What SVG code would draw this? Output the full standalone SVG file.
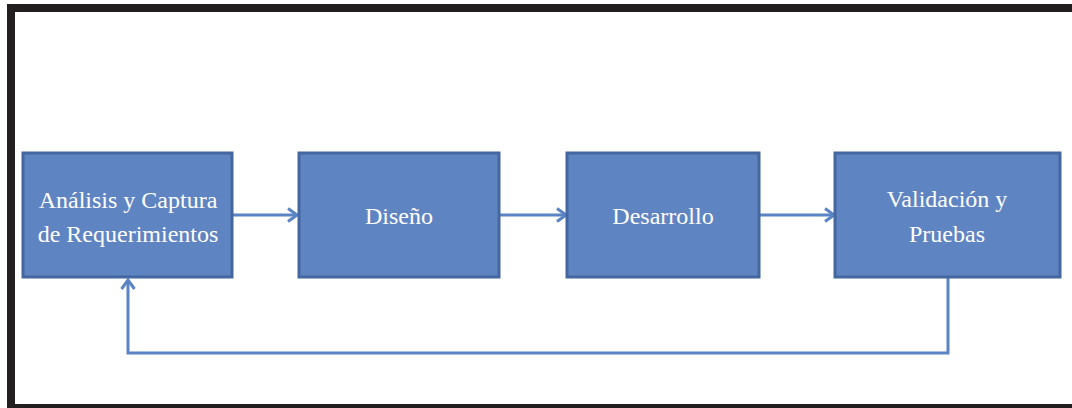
<svg xmlns="http://www.w3.org/2000/svg" width="1072" height="408" viewBox="0 0 1072 408">
<style>
.box{fill:#5f84c2;stroke:#44679f;stroke-width:3}
.lbl{font-family:"Liberation Serif",serif;font-size:24px;fill:#ffffff;text-anchor:middle}
.conn{fill:none;stroke:#5b84c4;stroke-width:3}
</style>
<defs>
<marker id="arr" viewBox="0 0 14 16" refX="12" refY="8" markerWidth="14" markerHeight="16" markerUnits="userSpaceOnUse" orient="auto">
<path d="M3,1.5 L12,8 L3,14.5" fill="none" stroke="#5b84c4" stroke-width="3"/>
</marker>
</defs>
<rect x="0" y="0" width="1072" height="408" fill="#ffffff"/>
<g id="frame" fill="#231f20">
<rect x="7" y="4" width="1065" height="8"/>
<rect x="7" y="4" width="8" height="404"/>
<rect x="7" y="404" width="1065" height="4"/>
</g>
<g id="connectors">
<line class="conn" x1="233" y1="215" x2="297" y2="215" marker-end="url(#arr)"/>
<line class="conn" x1="499" y1="215" x2="566" y2="215" marker-end="url(#arr)"/>
<line class="conn" x1="759" y1="215" x2="834" y2="215" marker-end="url(#arr)"/>
<polyline class="conn" points="948,278 948,353 128,353 128,280" marker-end="url(#arr)"/>
</g>
<g id="n1">
<rect class="box" x="23" y="153" width="209" height="124"/>
<text class="lbl" x="128" y="208">Análisis y Captura</text>
<text class="lbl" x="128" y="242">de Requerimientos</text>
</g>
<g id="n2">
<rect class="box" x="299" y="153" width="200" height="124"/>
<text class="lbl" x="399" y="224">Diseño</text>
</g>
<g id="n3">
<rect class="box" x="567" y="153" width="192" height="124"/>
<text class="lbl" x="663" y="224">Desarrollo</text>
</g>
<g id="n4">
<rect class="box" x="835" y="153" width="225" height="124"/>
<text class="lbl" x="947" y="207">Validación y</text>
<text class="lbl" x="947" y="242">Pruebas</text>
</g>
</svg>
